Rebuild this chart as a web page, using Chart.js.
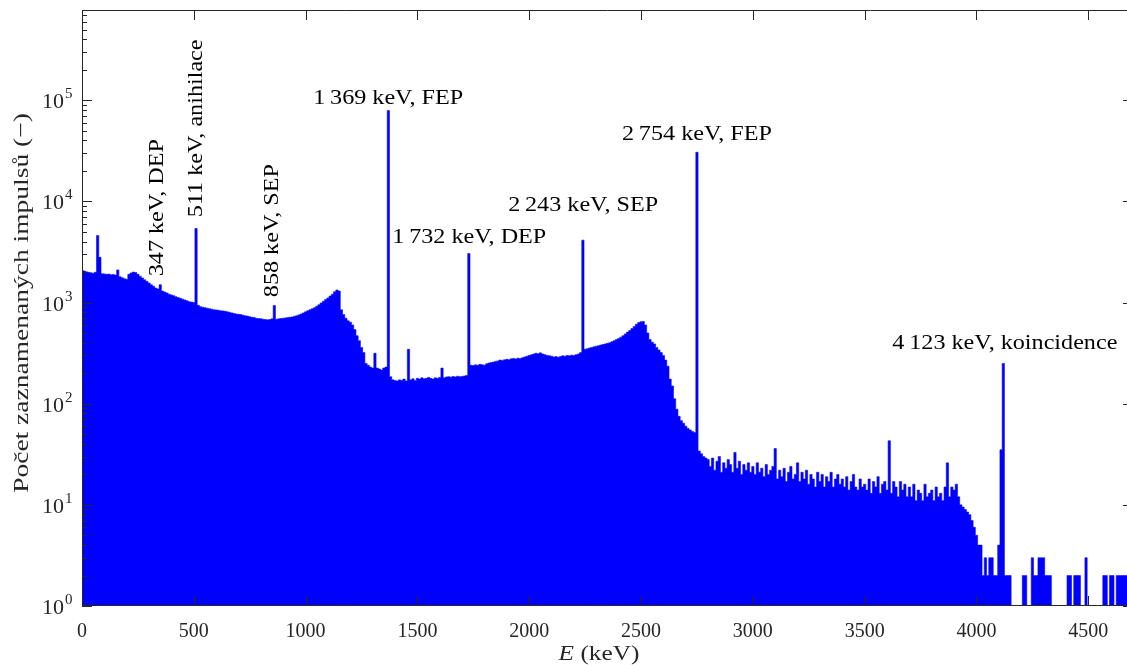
<!DOCTYPE html>
<html>
<head>
<meta charset="utf-8">
<script src="https://cdn.jsdelivr.net/npm/chart.js@4/dist/chart.umd.min.js"></script>
<style>
  html, body { margin: 0; padding: 0; background: #fff; overflow: hidden; }
  #wrap { position: relative; width: 1140px; height: 665px; }
</style>
</head>
<body>
<div id="wrap"><canvas id="spectrum"></canvas></div>
<script>
// ─── Data ─────────────────────────────────────────────────────────────────────

// channel width of the spectrum (keV); counts[i] belongs to energy i * BIN_KEV
const BIN_KEV = 10;

// counts per channel, one row = 100 keV
const counts = [
  2090, 2050, 2010, 1990, 1970, 1950, 1990, 4600, 2800, 1930,   // 0
  1920, 1900, 1910, 1880, 1890, 1870, 2100, 1800, 1760, 1720,   // 100
  1700, 1900, 1960, 2000, 1980, 1900, 1820, 1750, 1680, 1620,   // 200
  1560, 1500, 1450, 1390, 1360, 1500, 1300, 1270, 1240, 1210,   // 300
  1190, 1170, 1140, 1120, 1100, 1080, 1060, 1040, 1020, 1010,   // 400
  1000, 5400, 940, 910, 900, 890, 880, 870, 860, 850,           // 500
  845, 840, 830, 825, 820, 810, 800, 790, 780, 770,             // 600
  765, 760, 750, 740, 735, 725, 715, 710, 700, 695,             // 700
  690, 685, 680, 675, 680, 690, 935, 685, 690, 695,             // 800
  700, 705, 710, 715, 720, 730, 740, 755, 770, 790,             // 900
  810, 830, 850, 870, 890, 920, 950, 990, 1030, 1070,           // 1000
  1110, 1160, 1210, 1280, 1330, 1300, 850, 760, 700, 660,       // 1100
  640, 600, 540, 470, 420, 360, 320, 250, 240, 230,             // 1200
  225, 315, 225, 220, 215, 225, 230, 79000, 185, 172,           // 1300
  170, 168, 172, 170, 175, 168, 345, 172, 176, 170,             // 1400
  178, 175, 180, 176, 178, 182, 178, 175, 180, 178,             // 1500
  182, 225, 180, 184, 185, 183, 186, 184, 187, 185,             // 1600
  186, 188, 190, 3050, 240, 238, 242, 240, 245, 243,            // 1700
  240, 248, 252, 255, 258, 262, 265, 270, 268, 272,             // 1800
  275, 272, 278, 280, 277, 282, 280, 285, 290, 295,             // 1900
  300, 305, 310, 315, 312, 318, 310, 305, 300, 298,             // 2000
  295, 290, 292, 288, 293, 297, 295, 300, 298, 302,             // 2100
  300, 305, 310, 320, 4140, 345, 350, 355, 360, 365,            // 2200
  370, 375, 380, 385, 390, 395, 400, 410, 420, 430,             // 2300
  440, 455, 470, 490, 510, 530, 555, 580, 610, 635,             // 2400
  645, 650, 600, 500, 430, 405, 390, 360, 340, 320,             // 2500
  300, 270, 235, 175, 150, 112, 88, 75, 68, 64,                 // 2600
  60, 57, 55, 53, 52, 30600, 34, 32, 30, 29,                    // 2700
  28, 24, 29, 22, 27, 30, 21, 26, 23, 28,                       // 2800
  25, 21, 33, 23, 27, 20, 25, 22, 26, 21,                       // 2900
  24, 20, 26, 21, 23, 19, 25, 20, 22, 24,                       // 3000
  36, 18, 22, 19, 23, 17, 21, 24, 18, 20,                       // 3100
  26, 17, 21, 18, 22, 16, 20, 18, 15, 21,                       // 3200
  17, 20, 15, 19, 17, 21, 15, 18, 20, 16,                       // 3300
  18, 15, 19, 14, 17, 20, 15, 14, 18, 15,                       // 3400
  16, 14, 18, 13, 17, 15, 19, 13, 16, 17,                       // 3500
  14, 43, 13, 17, 15, 12, 17, 14, 16, 12,                       // 3600
  15, 12, 16, 11, 14, 13, 11, 16, 12, 13,                       // 3700
  14, 11, 15, 12, 13, 11, 15, 26, 12, 15,                       // 3800
  14, 16, 12, 10, 9.5, 9, 8.5, 8, 7, 6,                         // 3900
  5, 4, 4, 2, 3, 2, 3, 3, 2, 2,                                 // 4000
  4, 35, 250, 2, 2, 2, 1, 1, 1, 1,                              // 4100
  1, 2, 2, 1, 1, 3, 2, 2, 3, 3,                                 // 4200
  3, 2, 2, 2, 1, 1, 1, 1, 1, 1,                                 // 4300
  1, 2, 2, 1, 2, 2, 2, 1, 1, 3,                                 // 4400
  1, 1, 1, 1, 1, 1, 1, 2, 2, 1,                                 // 4500
  2, 2, 1, 2, 2, 2, 2, 2, 2, 2,                                 // 4600
  2                                                             // 4700
];

const xTicks = [0, 500, 1000, 1500, 2000, 2500, 3000, 3500, 4000, 4500];
const yDecades = [0, 1, 2, 3, 4, 5];

// peak labels: text, energy (keV), count level of the label anchor
const peakTexts = [
  '347 keV, DEP', '511 keV, anihilace', '858 keV, SEP',
  '1\u2009369 keV, FEP', '1\u2009732 keV, DEP', '2\u2009243 keV, SEP',
  '2\u2009754 keV, FEP', '4\u2009123 keV, koincidence'
];
const peakEnergies = [338, 513, 853, 1369, 1732, 2241, 2750, 4127];
const peakLevels = [1820, 6980, 1130, 91000, 3860, 8000, 40000, 346];
const peakVertical = [true, true, true, false, false, false, false, false];

// ─── Chart ────────────────────────────────────────────────────────────────────

const AXIS_COLOR = '#262626';
const SERIF = '"Liberation Serif", "Times New Roman", serif';

function drawText(ctx, str, x, y, o) {
  ctx.save();
  ctx.translate(x, y);
  if (o.rotate) ctx.rotate(o.rotate);
  ctx.scale(o.stretch || 1, 1);
  ctx.font = o.font;
  ctx.fillStyle = o.color || '#000';
  ctx.textAlign = o.align || 'center';
  ctx.textBaseline = o.baseline || 'alphabetic';
  ctx.fillText(str, 0, 0);
  ctx.restore();
}

const axesDecor = {
  id: 'axesDecor',
  afterDatasetsDraw(chart) {
    const { ctx, chartArea: a } = chart;
    const xs = chart.scales.x;
    const ys = chart.scales.y;

    ctx.save();
    ctx.strokeStyle = AXIS_COLOR;
    ctx.lineWidth = 1;

    // frame
    ctx.beginPath();
    ctx.moveTo(a.left + 0.5, a.top + 0.5);
    ctx.lineTo(a.right, a.top + 0.5);
    ctx.moveTo(a.left + 0.5, a.top);
    ctx.lineTo(a.left + 0.5, a.bottom);
    ctx.moveTo(a.left, a.bottom - 0.5);
    ctx.lineTo(a.right, a.bottom - 0.5);
    ctx.moveTo(a.right - 0.5, a.top);
    ctx.lineTo(a.right - 0.5, a.bottom);
    ctx.stroke();

    // x ticks, inward on bottom and top
    ctx.beginPath();
    xs.ticks.forEach((t) => {
      const px = Math.round(xs.getPixelForValue(t.value)) + 0.5;
      ctx.moveTo(px, a.bottom);
      ctx.lineTo(px, a.bottom - 10);
      ctx.moveTo(px, a.top);
      ctx.lineTo(px, a.top + 10);
    });
    // y ticks, major and minor, inward on left and right
    ys.ticks.forEach((t) => {
      const major = Math.abs(Math.log10(t.value) - Math.round(Math.log10(t.value))) < 1e-9;
      const len = major ? 10 : 5;
      const py = Math.round(ys.getPixelForValue(t.value)) + 0.5;
      ctx.moveTo(a.left, py);
      ctx.lineTo(a.left + len, py);
      ctx.moveTo(a.right, py);
      ctx.lineTo(a.right - len, py);
    });
    ctx.stroke();
    ctx.restore();

    // x tick labels
    xs.ticks.forEach((t) => {
      drawText(ctx, String(t.value), xs.getPixelForValue(t.value), a.bottom + 31,
        { font: '20px ' + SERIF, color: AXIS_COLOR });
    });

    // y tick labels 10^k
    yDecades.forEach((k) => {
      const py = ys.getPixelForValue(Math.pow(10, k));
      drawText(ctx, '10', a.left - 18, py + 8,
        { font: '22px ' + SERIF, color: AXIS_COLOR, align: 'right' });
      drawText(ctx, String(k), a.left - 17, py - 2,
        { font: '15px ' + SERIF, color: AXIS_COLOR, align: 'left' });
    });

    // axis titles
    drawText(ctx, 'Počet zaznamenaných impulsů (−)', 22, 303,
      { font: '22px ' + SERIF, color: AXIS_COLOR, rotate: -Math.PI / 2, baseline: 'middle', stretch: 1.25 });

    ctx.save();
    const cx = 599;
    const base = 660;
    ctx.font = 'italic 22px ' + SERIF;
    const wE = ctx.measureText('E').width * 1.15;
    ctx.font = '22px ' + SERIF;
    const wR = ctx.measureText(' (keV)').width * 1.15;
    ctx.restore();
    const x0 = cx - (wE + wR) / 2;
    drawText(ctx, 'E', x0, base, { font: 'italic 22px ' + SERIF, color: AXIS_COLOR, align: 'left', stretch: 1.15 });
    drawText(ctx, ' (keV)', x0 + wE, base, { font: '22px ' + SERIF, color: AXIS_COLOR, align: 'left', stretch: 1.15 });

    // peak annotations
    peakTexts.forEach((txt, i) => {
      const px = xs.getPixelForValue(peakEnergies[i]);
      const py = ys.getPixelForValue(peakLevels[i]);
      if (peakVertical[i]) {
        drawText(ctx, txt, px, py,
          { font: '21px ' + SERIF, rotate: -Math.PI / 2, align: 'left', baseline: 'middle', stretch: 1.15 });
      } else {
        drawText(ctx, txt, px, py, { font: '21px ' + SERIF, align: 'center', stretch: 1.15 });
      }
    });
  },
};

const points = counts.map((c, i) => ({ x: i * BIN_KEV, y: c }));

new Chart(document.getElementById('spectrum'), {
  type: 'line',
  data: {
    datasets: [{
      data: points,
      stepped: 'middle',
      fill: 'start',
      borderColor: '#0000ff',
      backgroundColor: '#0000ff',
      borderWidth: 0.6,
      pointRadius: 0,
      tension: 0,
    }],
  },
  options: {
    responsive: true,
    maintainAspectRatio: false,
    animation: false,
    events: [],
    layout: { padding: { left: 82, top: 10, right: 7, bottom: 59 } },
    plugins: { legend: { display: false }, tooltip: { enabled: false } },
    scales: {
      x: {
        type: 'linear',
        min: 0,
        max: 4700,
        afterBuildTicks: (s) => { s.ticks = xTicks.map((v) => ({ value: v })); },
        ticks: { display: false },
        grid: { display: false, drawTicks: false },
        border: { display: false },
      },
      y: {
        type: 'logarithmic',
        min: 1,
        max: 7.8e5,
        afterBuildTicks: (s) => {
          const t = [];
          yDecades.forEach((k) => {
            for (let m = 1; m <= 9; m++) {
              const v = m * Math.pow(10, k);
              if (v <= s.max) t.push({ value: v });
            }
          });
          s.ticks = t;
        },
        ticks: { display: false },
        grid: { display: false, drawTicks: false },
        border: { display: false },
      },
    },
  },
  plugins: [axesDecor],
});
</script>
</body>
</html>
